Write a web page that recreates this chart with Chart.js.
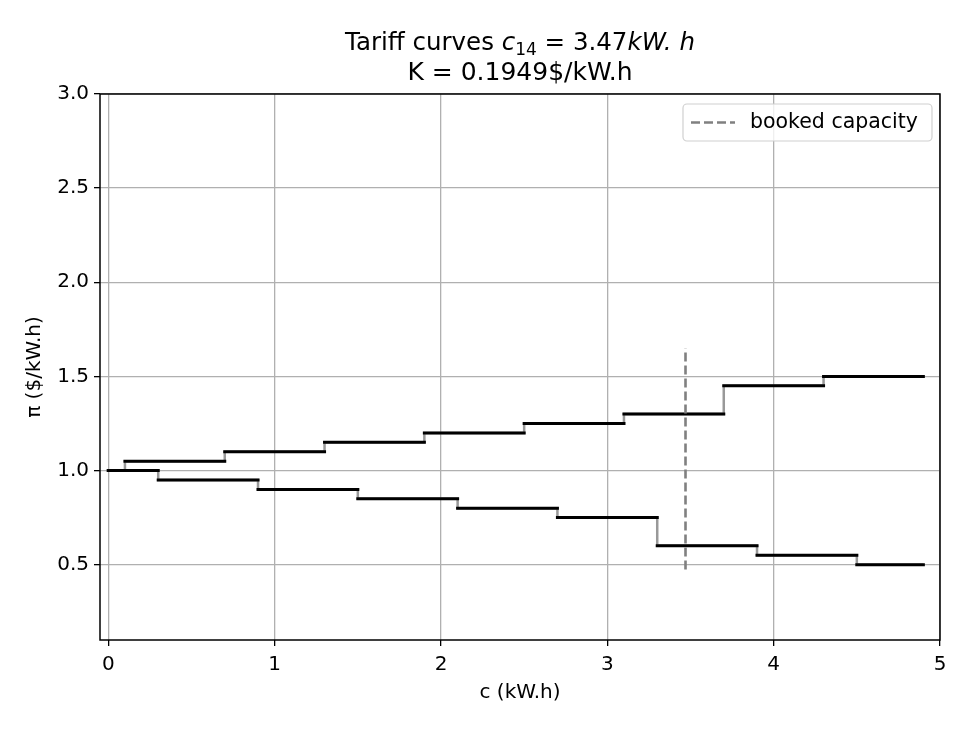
<!DOCTYPE html>
<html lang="en">
<head>
  <title>Tariff curves</title>
  <script src="https://cdn.jsdelivr.net/npm/chart.js"></script>
  <style>
    html, body {
      margin: 0;
      padding: 0;
      background: #ffffff;
    }
    #wrap {
      width: 972px;
      height: 729px;
    }
  </style>
</head>
<body>
<div id="wrap"><canvas id="tariffChart" width="972" height="729"></canvas></div>

<script>
  // tariff steps: edges in kW.h, one price per step
  const upperEdges = [0, 0.1, 0.7, 1.3, 1.9, 2.5, 3.1, 3.7, 4.3, 4.9];
  const upperPrices = [1.0, 1.05, 1.1, 1.15, 1.2, 1.25, 1.3, 1.45, 1.5];
  const lowerEdges = [0, 0.3, 0.9, 1.5, 2.1, 2.7, 3.3, 3.9, 4.5, 4.9];
  const lowerPrices = [1.0, 0.95, 0.9, 0.85, 0.8, 0.75, 0.6, 0.55, 0.5];

  const bookedCapacity = 3.47;
  const bookedSpan = [0.475, 1.65];

  const xTicks = [0, 1, 2, 3, 4, 5];
  const yTicks = [0.5, 1.0, 1.5, 2.0, 2.5, 3.0];

  const FONT = "'DejaVu Sans', sans-serif";

  // gray step line (verticals show through)
  function stepPoints(edges, prices) {
    let pts = prices.map((p, i) => ({ x: edges[i], y: p }));
    pts.push({ x: edges[edges.length - 1], y: prices[prices.length - 1] });
    return pts;
  }

  // black horizontal pieces only
  function flatPoints(edges, prices) {
    let pts = [];
    prices.forEach((p, i) => {
      pts.push({ x: edges[i], y: p });
      pts.push({ x: edges[i + 1], y: p });
      pts.push({ x: edges[i + 1], y: null });
    });
    return pts;
  }

  const frameAndTitle = {
    id: 'frameAndTitle',
    afterDatasetsDraw(chart) {
      const { ctx, chartArea: a } = chart;
      ctx.save();
      ctx.strokeStyle = '#000';
      ctx.lineWidth = 1.5;
      ctx.strokeRect(a.left, a.top, a.right - a.left, a.bottom - a.top);
      ctx.restore();
    },
    afterDraw(chart) {
      const { ctx, chartArea: a } = chart;
      const cx = (a.left + a.right) / 2;
      ctx.save();
      ctx.fillStyle = '#000';
      ctx.textBaseline = 'alphabetic';

      // line 1 with math parts
      const parts = [
        { t: 'Tariff curves ', f: `24.5px ${FONT}`, dy: 0 },
        { t: 'c', f: `italic 24.5px ${FONT}`, dy: 0 },
        { t: '14', f: `17px ${FONT}`, dy: 5 },
        { t: ' = 3.47', f: `24.5px ${FONT}`, dy: 0 },
        { t: 'kW. h', f: `italic 24.5px ${FONT}`, dy: 0 }
      ];
      let total = 0;
      parts.forEach(p => { ctx.font = p.f; p.w = ctx.measureText(p.t).width; total += p.w; });
      let x = cx - total / 2;
      ctx.textAlign = 'left';
      parts.forEach(p => {
        ctx.font = p.f;
        ctx.fillText(p.t, x, 50 + p.dy);
        x += p.w;
      });

      ctx.font = `25px ${FONT}`;
      ctx.textAlign = 'center';
      ctx.fillText('K = 0.1949$/kW.h', cx, 80);

      // legend box
      const ds = chart.data.datasets.find(d => d.showInLegend);
      const bx = a.right - 257, by = a.top + 10, bw = 249, bh = 37;
      ctx.beginPath();
      ctx.roundRect(bx, by, bw, bh, 4);
      ctx.fillStyle = 'rgba(255,255,255,0.8)';
      ctx.fill();
      ctx.strokeStyle = '#d0d0d0';
      ctx.lineWidth = 1.2;
      ctx.stroke();

      ctx.beginPath();
      ctx.setLineDash(ds.borderDash);
      ctx.strokeStyle = ds.borderColor;
      ctx.lineWidth = ds.borderWidth;
      ctx.moveTo(bx + 8, by + bh / 2);
      ctx.lineTo(bx + 52, by + bh / 2);
      ctx.stroke();
      ctx.setLineDash([]);

      ctx.fillStyle = '#000';
      ctx.font = `20.5px ${FONT}`;
      ctx.textAlign = 'left';
      ctx.textBaseline = 'middle';
      ctx.fillText(ds.label, bx + 67, by + bh / 2);
      ctx.restore();
    }
  };

  const ctx = document.getElementById('tariffChart').getContext('2d');

  new Chart(ctx, {
    type: 'scatter',
    data: {
      datasets: [
        {
          label: 'booked capacity',
          showInLegend: true,
          data: [{ x: bookedCapacity, y: bookedSpan[0] }, { x: bookedCapacity, y: bookedSpan[1] }],
          showLine: true,
          borderColor: '#808080',
          borderWidth: 2.6,
          borderDash: [9, 4],
          pointRadius: 0,
          order: -1
        },
        {
          label: 'upper',
          data: flatPoints(upperEdges, upperPrices),
          showLine: true,
          spanGaps: false,
          borderColor: '#000000',
          borderWidth: 3,
          borderCapStyle: 'square',
          pointRadius: 0,
          order: 0
        },
        {
          label: 'lower',
          data: flatPoints(lowerEdges, lowerPrices),
          showLine: true,
          spanGaps: false,
          borderColor: '#000000',
          borderWidth: 3,
          borderCapStyle: 'square',
          pointRadius: 0,
          order: 0
        },
        {
          label: 'upper steps',
          data: stepPoints(upperEdges, upperPrices),
          showLine: true,
          stepped: 'before',
          borderColor: '#999999',
          borderWidth: 2.5,
          pointRadius: 0,
          order: 1
        },
        {
          label: 'lower steps',
          data: stepPoints(lowerEdges, lowerPrices),
          showLine: true,
          stepped: 'before',
          borderColor: '#999999',
          borderWidth: 2.5,
          pointRadius: 0,
          order: 1
        }
      ]
    },
    options: {
      responsive: false,
      animation: false,
      layout: { padding: { top: 94, right: 32, left: 23, bottom: 24 } },
      plugins: {
        legend: { display: false },
        tooltip: { enabled: false },
        title: { display: false }
      },
      scales: {
        x: {
          type: 'linear',
          min: -0.05,
          max: 5,
          afterBuildTicks: s => { s.ticks = xTicks.map(v => ({ value: v })); },
          afterFit: s => { s.height = 65; },
          ticks: {
            color: '#000',
            font: { family: FONT, size: 20 },
            padding: 7,
            callback: v => String(v)
          },
          grid: {
            color: '#b0b0b0',
            lineWidth: 1.3,
            tickColor: '#000',
            tickLength: 6
          },
          border: { display: false },
          title: {
            display: true,
            text: 'c (kW.h)',
            color: '#000',
            font: { family: FONT, size: 20 },
            padding: { top: 0, bottom: 0 }
          }
        },
        y: {
          type: 'linear',
          min: 0.1,
          max: 3.0,
          afterBuildTicks: s => { s.ticks = yTicks.map(v => ({ value: v })); },
          afterFit: s => { s.width = 77; },
          ticks: {
            color: '#000',
            font: { family: FONT, size: 20 },
            padding: 5,
            callback: v => v.toFixed(1)
          },
          grid: {
            color: '#b0b0b0',
            lineWidth: 1.3,
            tickColor: '#000',
            tickLength: 6
          },
          border: { display: false },
          title: {
            display: true,
            text: 'π ($/kW.h)',
            color: '#000',
            font: { family: FONT, size: 20 },
            padding: { top: 0, bottom: 0 }
          }
        }
      }
    },
    plugins: [frameAndTitle]
  });
</script>
</body>
</html>
